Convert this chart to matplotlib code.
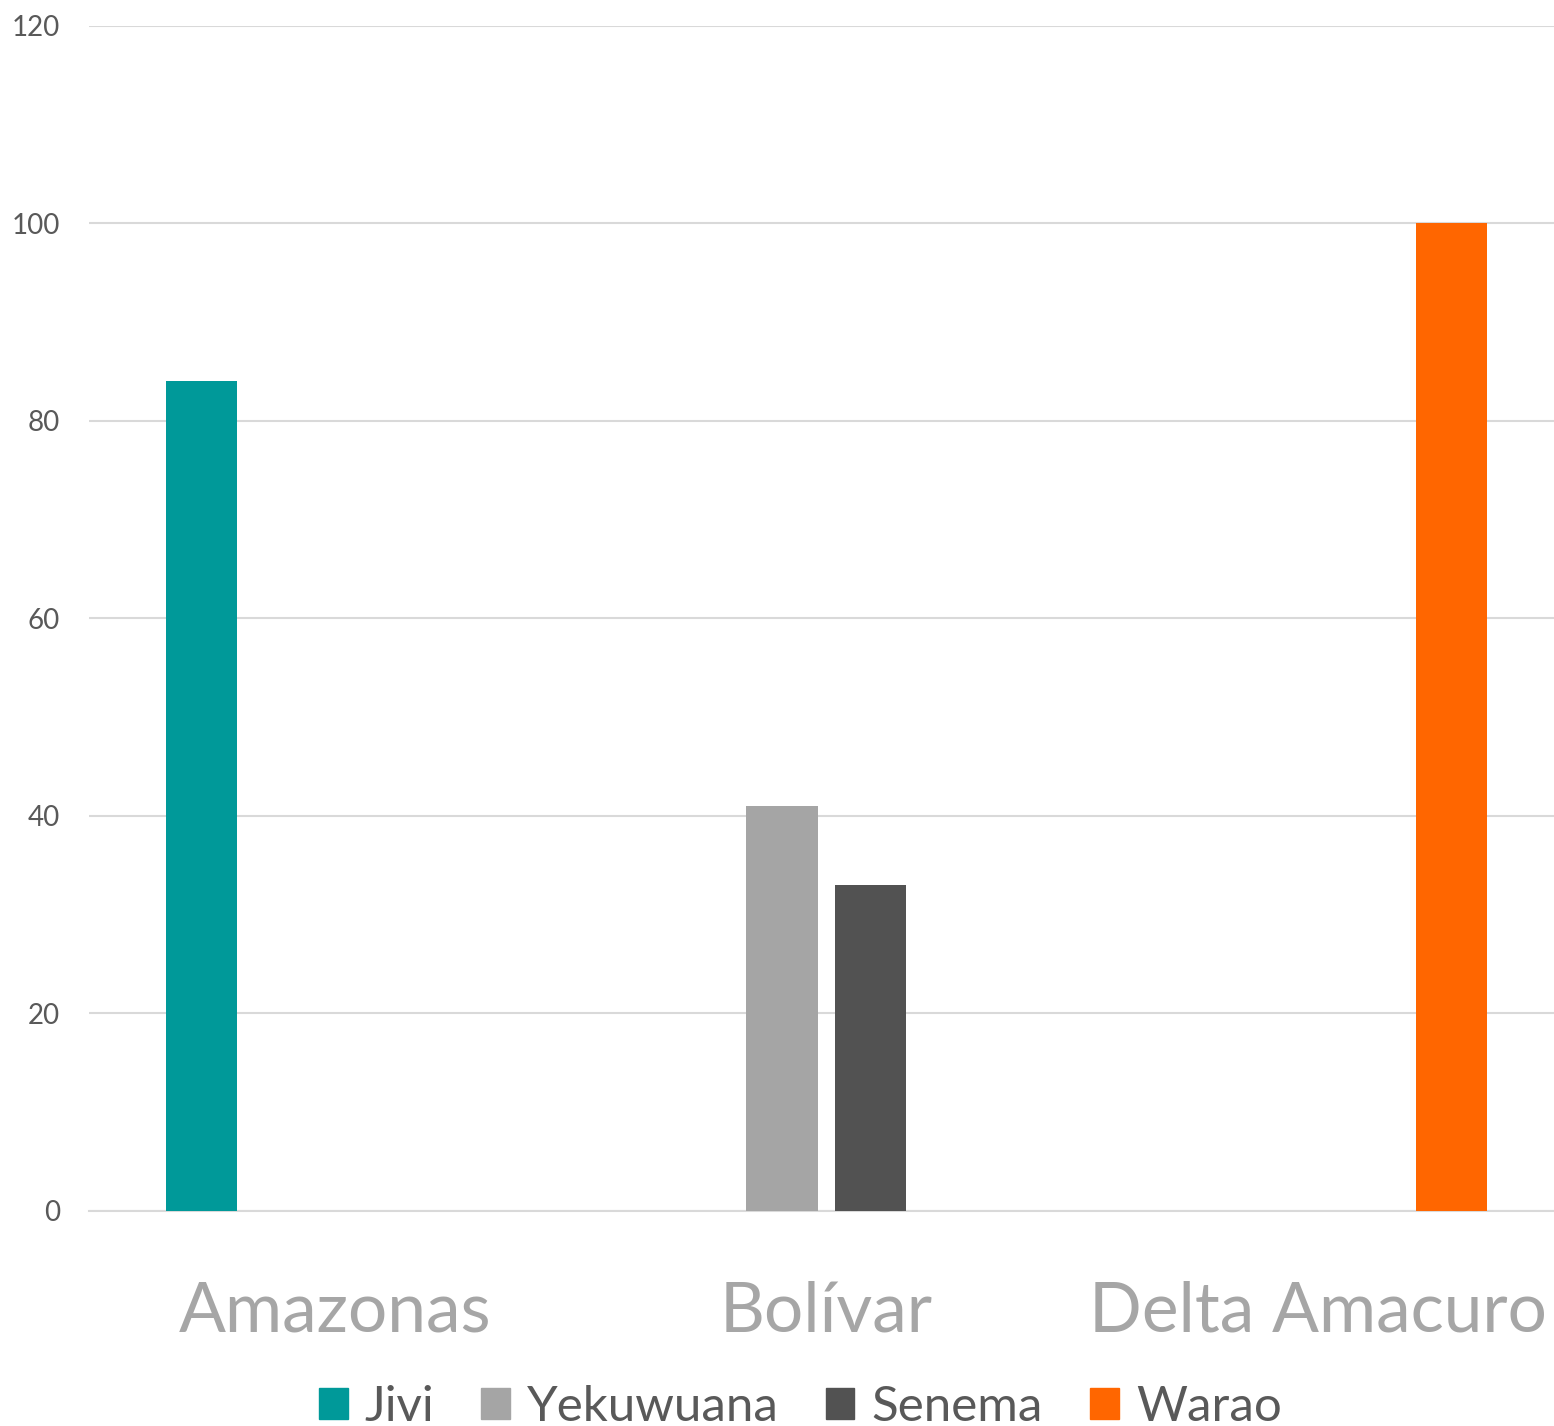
import numpy as np
import matplotlib.pyplot as plt
from matplotlib.patches import Patch

plt.rcParams['font.family'] = ['Lato', 'DejaVu Sans']

# data
regions = ['Amazonas', 'Bolívar', 'Delta Amacuro']
jivi = [84, 0, 0]
yekuwuana = [0, 41, 0]
senema = [0, 33, 0]
warao = [0, 0, 100]

series = [('Jivi', jivi, '#009999'),
          ('Yekuwuana', yekuwuana, '#A5A5A5'),
          ('Senema', senema, '#525252'),
          ('Warao', warao, '#FF6600')]

fig = plt.figure(figsize=(15.54, 14.26), dpi=100)
ax = fig.add_axes([0.0574, 0.1508, 0.9489, 0.8310])

x = np.arange(len(regions))
step = 0.181
width = 0.1445
for i, (name, vals, col) in enumerate(series):
    ax.bar(x + (i - 1.5) * step, vals, width, color=col, label=name, zorder=3)

ax.set_xlim(-0.5, 2.5)
ax.set_ylim(0, 120)
ax.set_yticks(range(0, 121, 20))
ax.yaxis.grid(True, color='#D9D9D9', linewidth=1.5, zorder=0)
for s in ['top', 'right', 'left']:
    ax.spines[s].set_visible(False)
ax.spines['bottom'].set_color('#D9D9D9')
ax.spines['bottom'].set_linewidth(1.5)

ax.set_xticks(x)
ax.set_xticklabels(regions)
ax.tick_params(axis='x', length=0, pad=50, labelsize=50, labelcolor='#A6A6A6')
ax.tick_params(axis='y', length=0, pad=21, labelsize=20, labelcolor='#595959')

handles = [Patch(color=c, label=n) for n, _, c in series]
fig.legend(handles=handles, loc='center', bbox_to_anchor=(0.515, 0.0133), ncol=4,
           frameon=False, fontsize=35.5, labelcolor='#595959',
           handlelength=0.58, handleheight=0.58, handletextpad=0.35, columnspacing=0.95)

fig.savefig('out.png', dpi=100)
